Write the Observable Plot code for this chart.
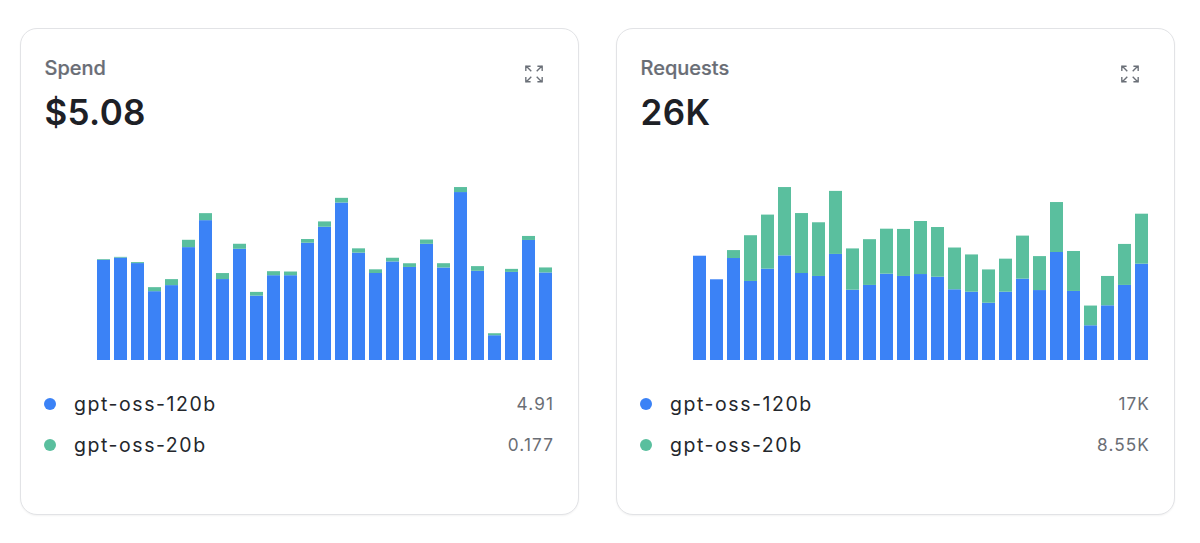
<!DOCTYPE html>
<html>
<head>
<meta charset="utf-8">
<script src="https://cdn.jsdelivr.net/npm/d3@7"></script>
<script src="https://cdn.jsdelivr.net/npm/@observablehq/plot@0.6"></script>
<style>
html,body{margin:0;padding:0;background:#fff;width:1200px;height:543px;overflow:hidden;font-family:Inter,"Noto Sans",sans-serif;}
.card{position:absolute;top:28px;width:557px;height:485px;border:1px solid #e2e3e6;border-radius:17px;box-shadow:0 1px 2px rgba(0,0,0,.05);background:#fff;box-sizing:content-box;}
.title{position:absolute;left:23.5px;top:27px;font-size:20px;font-weight:500;color:#696d75;line-height:24px;-webkit-text-stroke:.2px #696d75;}
.big{position:absolute;left:23.5px;top:61px;font-size:35px;font-weight:600;color:#1d2026;line-height:44px;letter-spacing:.35px;}
.icon{position:absolute;left:503px;top:35px;width:20px;height:20px;}
.chart{position:absolute;top:151px;}
.chart svg{display:block;}
.row{position:absolute;left:0;right:0;height:24px;line-height:24px;}
.dot{position:absolute;left:23px;top:6px;width:12px;height:12px;border-radius:50%;}
.name{position:absolute;left:53px;top:0;font-size:19.5px;color:#24272c;letter-spacing:1.55px;}
.val{position:absolute;right:24px;top:0;font-size:17.2px;color:#6a6e75;letter-spacing:1.1px;}
</style>
</head>
<body>
<div id="root"></div>
<script>
const days = d3.range(27);
const seriesNames = ["gpt-oss-120b", "gpt-oss-20b"];
const seriesColors = ["#3b82f6", "#5abf9e"];

const spend120b = [.182,.186,.176,.125,.136,.205,.254,.147,.202,.117,.154,.154,.213,.242,.286,.195,.158,.179,.169,.211,.168,.305,.162,.045,.160,.218,.159];
const spend20b  = [.0013,.0013,.0018,.0073,.0109,.0133,.0127,.0109,.0091,.0067,.0073,.0067,.0067,.0097,.0085,.0078,.0067,.0067,.0067,.0078,.0078,.0091,.0085,.0036,.0055,.0073,.0091];
const requests120b = [814,630,796,617,713,817,679,656,828,549,586,674,656,671,650,552,533,447,533,635,546,843,539,271,427,586,752];
const requests20b  = [0,0,62,357,422,533,468,419,492,322,357,351,367,414,388,326,291,260,258,336,265,390,312,154,229,320,390];

const spendTitle = "Spend", spendTotal = "$5.08", spendLegend = ["4.91", "0.177"], spendMax = 0.3269;
const requestsTitle = "Requests", requestsTotal = "26K", requestsLegend = ["17K", "8.55K"], requestsMax = 1405;

function chart(a, b, maxY) {
  const rows = [
    ...days.map(d => ({day: d, value: a[d], series: seriesNames[0]})),
    ...days.map(d => ({day: d, value: b[d], series: seriesNames[1]}))
  ];
  return Plot.plot({
    width: 463, height: 180,
    marginTop: 0, marginBottom: 0, marginLeft: 0, marginRight: 0,
    x: {axis: null, domain: days, padding: 0.235, round: false},
    y: {axis: null, domain: [0, maxY]},
    color: {domain: seriesNames, range: seriesColors},
    marks: [Plot.barY(rows, {x: "day", y: "value", fill: "series", order: null})]
  });
}

const iconSvg = `<svg class="icon" viewBox="0 0 22 22" fill="none" stroke="#6b7078" stroke-width="1.5" stroke-linecap="square">
<path d="M2 7V2.5H6.5M2.5 2.5L7.5 7.5"/><path d="M20 7V2.5H15.5M19.5 2.5L14.5 7.5"/>
<path d="M2 15V19.5H6.5M2.5 19.5L7.5 14.5"/><path d="M20 15V19.5H15.5M19.5 19.5L14.5 14.5"/></svg>`;

function card(left, chartLeft, title, total, legend, a, b, maxY) {
  const c = document.createElement("div");
  c.className = "card"; c.style.left = left + "px";
  c.innerHTML = `<div class="title">${title}</div><div class="big">${total}</div>${iconSvg}`;
  const h = document.createElement("div");
  h.className = "chart"; h.style.left = chartLeft + "px";
  h.appendChild(chart(a, b, maxY));
  c.appendChild(h);
  seriesNames.forEach((n, i) => {
    const r = document.createElement("div");
    r.className = "row"; r.style.top = (362.5 + i * 41.5) + "px";
    r.innerHTML = `<span class="dot" style="background:${seriesColors[i]}"></span><span class="name">${n}</span><span class="val">${legend[i]}</span>`;
    c.appendChild(r);
  });
  document.getElementById("root").appendChild(c);
}
card(20, 72, spendTitle, spendTotal, spendLegend, spend120b, spend20b, spendMax);
card(616, 72.3, requestsTitle, requestsTotal, requestsLegend, requests120b, requests20b, requestsMax);
</script>
</body>
</html>
